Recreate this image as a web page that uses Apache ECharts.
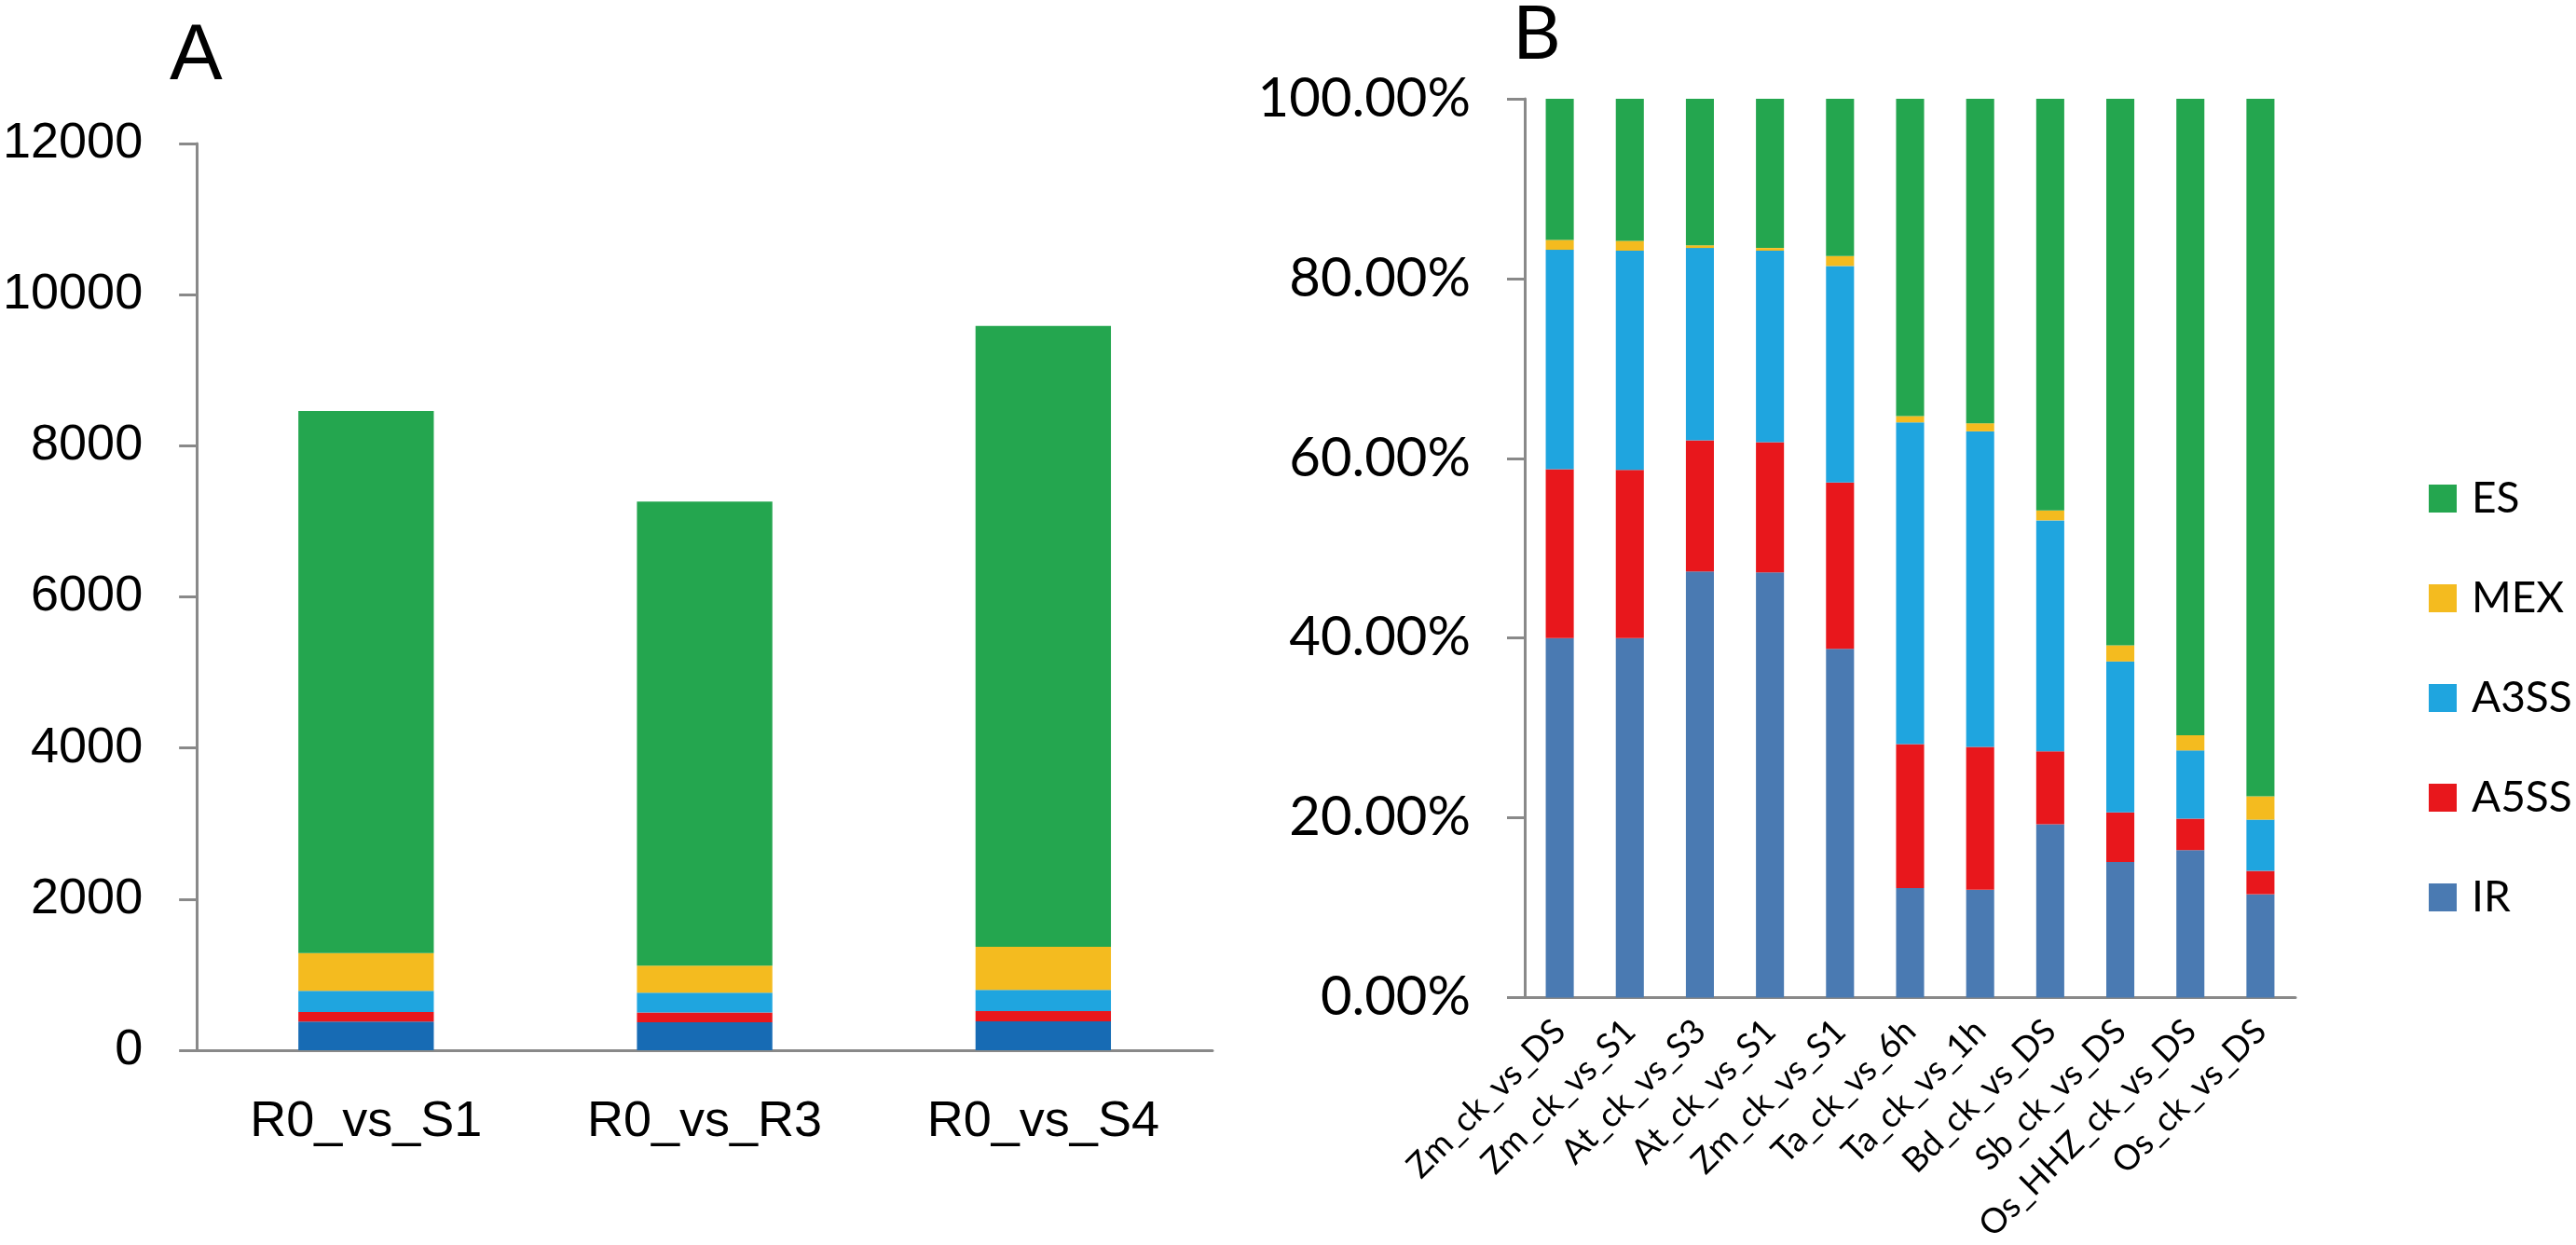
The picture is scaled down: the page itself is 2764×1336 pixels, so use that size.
<!DOCTYPE html>
<html>
<head>
    <meta charset="utf-8">
    <script src="https://cdn.jsdelivr.net/npm/echarts@6/dist/echarts.min.js"></script>
    <style>
        html, body { margin: 0; padding: 0; background: #fff; }
        #chart { width: 2764px; height: 1336px; }
    </style>
</head>
<body>
<div id="chart"></div>
<script type="text/javascript">
    // Panel A: counts per comparison
    var compsA = ['R0_vs_S1', 'R0_vs_R3', 'R0_vs_S4'];
    var irA   = [380, 369, 382];
    var a5ssA = [125, 129, 136];
    var a3ssA = [280, 265, 280];
    var mexA  = [502, 355, 571];
    var esA   = [7173, 6144, 8216];

    // Panel B: percentages per comparison
    var compsB = ['Zm_ck_vs_DS', 'Zm_ck_vs_S1', 'At_ck_vs_S3', 'At_ck_vs_S1', 'Zm_ck_vs_S1',
                  'Ta_ck_vs_6h', 'Ta_ck_vs_1h', 'Bd_ck_vs_DS', 'Sb_ck_vs_DS', 'Os_HHZ_ck_vs_DS', 'Os_ck_vs_DS'];
    var irB   = [40.0, 40.0, 47.4, 47.3, 38.8, 12.2, 12.0, 19.3, 15.1, 16.4, 11.5];
    var a5ssB = [18.8, 18.7, 14.6, 14.5, 18.5, 16.0, 15.9, 8.1, 5.5, 3.5, 2.6];
    var a3ssB = [24.4, 24.4, 21.4, 21.3, 24.1, 35.8, 35.1, 25.7, 16.8, 7.6, 5.7];
    var mexB  = [1.1, 1.1, 0.3, 0.3, 1.1, 0.7, 0.9, 1.1, 1.8, 1.7, 2.6];
    var esB   = [15.7, 15.8, 16.3, 16.6, 17.5, 35.3, 36.1, 45.8, 60.8, 70.8, 77.6];

    var yTicksA = [0, 12000, 2000];   // min, max, interval
    var legendOrder = ['ES', 'MEX', 'A3SS', 'A5SS', 'IR'];

    var colors = { ES: '#24A64F', MEX: '#F4BB1F', A3SS: '#1FA5DF', A5SS: '#E8171C', IR: '#176BB4' };
    var irColorB = '#4A7AB2';
    var axisGray = '#898989';

    function barSeries(name, data, axisIdx, stack, color) {
        return {
            name: name, type: 'bar', stack: stack,
            xAxisIndex: axisIdx, yAxisIndex: axisIdx,
            barWidth: '40%', data: data,
            itemStyle: { color: color }
        };
    }

    var chart = echarts.init(document.getElementById('chart'));
    var option = {
        animation: false,
        backgroundColor: '#fff',
        title: [
            { text: 'A', left: 177, top: 14, textStyle: { fontFamily: 'Liberation Sans', fontSize: 85, fontWeight: 'normal', color: '#000' } },
            { text: 'B', left: 1618, top: -8, textStyle: { fontFamily: 'Lato', fontSize: 80, fontWeight: 'normal', color: '#000' } }
        ],
        legend: {
            orient: 'vertical', left: 2606, top: 512, padding: 0,
            itemWidth: 30, itemHeight: 30, itemGap: 61, icon: 'rect',
            textStyle: { fontFamily: 'Lato', fontSize: 46, lineHeight: 30, color: '#000', padding: [0, 0, 0, 11] },
            data: legendOrder.map(function (n) {
                return { name: n, itemStyle: { color: n === 'IR' ? irColorB : colors[n] } };
            })
        },
        grid: [
            { left: 209, top: 154, width: 1092, height: 973 },
            { left: 1636, top: 106, width: 827, height: 966 }
        ],
        xAxis: [
            {
                type: 'category', gridIndex: 0, data: compsA,
                axisLine: { lineStyle: { color: axisGray, width: 3 } },
                axisTick: { length: 20, lineStyle: { color: axisGray, width: 3 } },
                axisLabel: { margin: 50, fontFamily: 'Liberation Sans', fontSize: 54, color: '#000' }
            },
            {
                type: 'category', gridIndex: 1, data: compsB,
                axisLine: { lineStyle: { color: axisGray, width: 3 } },
                axisTick: { length: 13, lineStyle: { color: axisGray, width: 3 } },
                axisLabel: { interval: 0, rotate: 45, margin: 30, fontFamily: 'Lato', fontSize: 37, color: '#000' }
            }
        ],
        yAxis: [
            {
                type: 'value', gridIndex: 0, min: yTicksA[0], max: yTicksA[1], interval: yTicksA[2],
                axisLine: { show: true, lineStyle: { color: axisGray, width: 3 } },
                axisTick: { show: true, length: 19, lineStyle: { color: axisGray, width: 3 } },
                splitLine: { show: false },
                axisLabel: {
                    margin: 58, fontFamily: 'Liberation Sans', fontSize: 54, color: '#000',
                    formatter: function (v) { return String(v); }
                }
            },
            {
                type: 'value', gridIndex: 1, min: 0, max: 100, interval: 20,
                axisLine: { show: true, lineStyle: { color: axisGray, width: 3 } },
                axisTick: { show: true, length: 19, lineStyle: { color: axisGray, width: 3 } },
                splitLine: { show: false },
                axisLabel: {
                    margin: 58, fontFamily: 'Lato', fontSize: 58, color: '#000',
                    formatter: function (v) { return v.toFixed(2) + '%'; }
                }
            }
        ],
        series: [
            barSeries('IR', irA, 0, 'a', colors.IR),
            barSeries('A5SS', a5ssA, 0, 'a', colors.A5SS),
            barSeries('A3SS', a3ssA, 0, 'a', colors.A3SS),
            barSeries('MEX', mexA, 0, 'a', colors.MEX),
            barSeries('ES', esA, 0, 'a', colors.ES),
            barSeries('IR', irB, 1, 'b', irColorB),
            barSeries('A5SS', a5ssB, 1, 'b', colors.A5SS),
            barSeries('A3SS', a3ssB, 1, 'b', colors.A3SS),
            barSeries('MEX', mexB, 1, 'b', colors.MEX),
            barSeries('ES', esB, 1, 'b', colors.ES)
        ]
    };
    chart.setOption(option);
</script>
</body>
</html>
